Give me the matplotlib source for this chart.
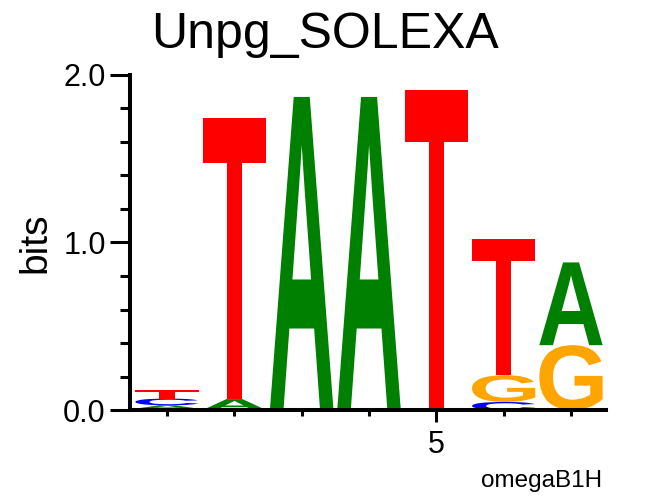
import matplotlib
matplotlib.use('Agg')
import matplotlib.pyplot as plt
from matplotlib.textpath import TextPath
from matplotlib.patches import PathPatch
from matplotlib.font_manager import FontProperties
from matplotlib.transforms import Affine2D
import numpy as np

plt.rcParams['font.family'] = ['Liberation Sans', 'DejaVu Sans']

# 每个位置的字母高度 (bits)
positions = [1, 2, 3, 4, 5, 6, 7]
bits_A = [0.020, 0.065, 1.857, 1.857, 0.000, 0.000, 0.494]
bits_C = [0.040, 0.000, 0.000, 0.000, 0.000, 0.048, 0.000]
bits_G = [0.008, 0.000, 0.012, 0.012, 0.008, 0.160, 0.387]
bits_T = [0.050, 1.679, 0.000, 0.000, 1.900, 0.810, 0.000]
letter_colors = {'A': '#008000', 'C': '#0000ff', 'G': '#ffa500', 'T': '#ff0000'}

title = 'Unpg_SOLEXA'
ylabel = 'bits'
footer = 'omegaB1H'

glyph_font = FontProperties(family='Liberation Sans', weight='bold')


def draw_letter(ax, ch, x, bottom, width, height, color):
    tp = TextPath((0, 0), ch, size=1, prop=glyph_font)
    ext = tp.get_extents()
    tr = Affine2D().translate(-ext.x0, -ext.y0) \
        .scale(width / ext.width, height / ext.height) \
        .translate(x - width / 2, bottom)
    path = tr.transform_path(tp)
    ax.add_patch(PathPatch(path, facecolor=color, edgecolor='none', lw=0))


fig = plt.figure(figsize=(6.54, 4.96), dpi=100)
ax = fig.add_axes([130 / 654, 86 / 496, 476 / 654, 335 / 496])

letters = {'A': bits_A, 'C': bits_C, 'G': bits_G, 'T': bits_T}
for i, pos in enumerate(positions):
    stack = sorted([(letters[k][i], k) for k in letters if letters[k][i] > 0])
    y = 0
    for h, k in stack:
        draw_letter(ax, k, pos, y, 0.94, h, letter_colors[k])
        y += h

ax.set_xlim(0.45, 7.52)
ax.set_ylim(0, 2.0)
for s in ['top', 'right']:
    ax.spines[s].set_visible(False)
for s in ['left', 'bottom']:
    ax.spines[s].set_linewidth(2.9)

ax.set_xticks([5])
ax.set_xticklabels(['5'])
ax.set_xticks([1, 2, 3, 4, 6, 7], minor=True)
ax.set_yticks([0, 1, 2])
ax.set_yticklabels(['0.0', '1.0', '2.0'])
ax.set_yticks(np.arange(0, 2.01, 0.2), minor=True)
ax.tick_params(axis='y', which='major', length=14.4, width=2.2, labelsize=22, pad=3)
ax.tick_params(axis='y', which='minor', length=7.2, width=2.2)
ax.tick_params(axis='x', which='major', length=8.6, width=2.2, labelsize=22, pad=6)
ax.tick_params(axis='x', which='minor', length=4.3, width=2.2)

fig.text(0.497, (496 - 48) / 496, title, ha='center', va='baseline', fontsize=36)
fig.text(35 / 654, (496 - 243) / 496, ylabel, rotation=90, ha='center', va='center', fontsize=28)
fig.text(602 / 654, (496 - 487) / 496, footer, ha='right', va='baseline', fontsize=17.5)

fig.savefig('out.png', dpi=100)
